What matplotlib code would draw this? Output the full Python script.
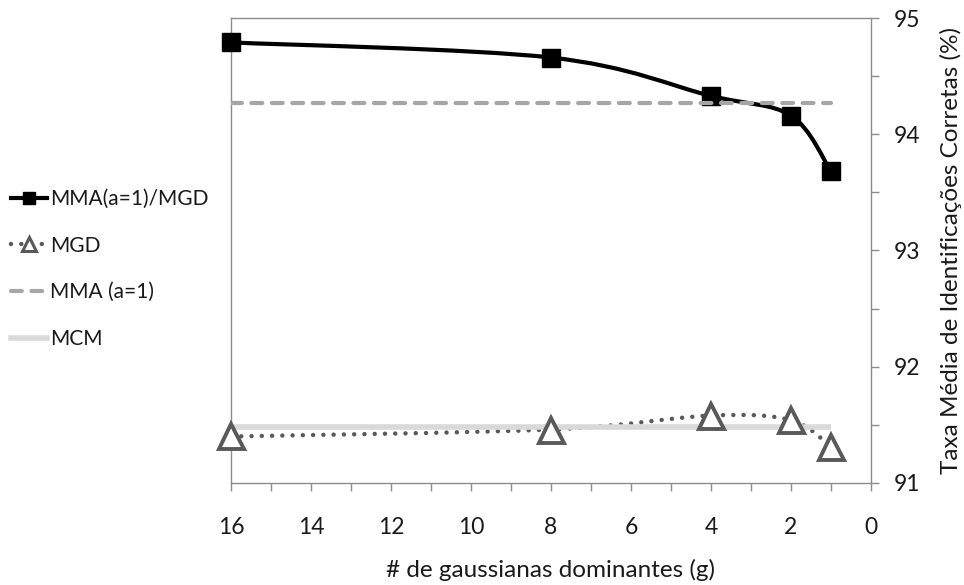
import numpy as np
import matplotlib
matplotlib.use("Agg")
import matplotlib.pyplot as plt
from matplotlib.path import Path
from matplotlib.patches import PathPatch
from matplotlib.lines import Line2D
from matplotlib.ticker import MultipleLocator

plt.rcParams['font.family'] = ['Lato', 'DejaVu Sans']

# Data
g = [16, 8, 4, 2, 1]
mma_mgd = [94.79, 94.66, 94.33, 94.16, 93.68]
mgd = [91.40, 91.46, 91.58, 91.54, 91.31]
mma_a1 = [94.27, 94.27]
mcm = [91.48, 91.48]
const_x = [16, 1]
labels = ["MMA(a=1)/MGD", "MGD", "MMA (a=1)", "MCM"]
xticks = [16, 14, 12, 10, 8, 6, 4, 2, 0]
yticks = [91, 92, 93, 94, 95]


def smooth_path(xs, ys):
    """Excel-like smoothed line: Catmull-Rom converted to cubic Bezier."""
    P = np.column_stack([xs, ys]).astype(float)
    n = len(P)
    verts = [P[0]]
    codes = [Path.MOVETO]
    for i in range(n - 1):
        p0 = P[i - 1] if i > 0 else P[i]
        p1 = P[i]
        p2 = P[i + 1]
        p3 = P[i + 2] if i + 2 < n else P[i + 1]
        c1 = p1 + (p2 - p0) / 6.0
        c2 = p2 - (p3 - p1) / 6.0
        verts += [c1, c2, p2]
        codes += [Path.CURVE4] * 3
    return Path(verts, codes)


fig = plt.figure(figsize=(9.64, 5.85), dpi=100)
ax = fig.add_axes([0.2396, 0.1744, 0.9035 - 0.2396, 0.9692 - 0.1744])

c_black = '#000000'
c_mgd = '#595959'
c_mma = '#A6A6A6'
c_mcm = '#D9D9D9'
dot_style = (0, (0.01, 2.3))
dash_style = (0, (2.6, 2.3))

# MMA(a=1)/MGD smoothed line
ax.add_patch(PathPatch(smooth_path(g, mma_mgd), fill=False, edgecolor=c_black,
                       lw=3, capstyle='round', joinstyle='round', zorder=3,
                       clip_on=False))
ax.plot(g, mma_mgd, linestyle='none', marker='s', markersize=13,
        markerfacecolor=c_black, markeredgecolor=c_black, zorder=4, clip_on=False)

# MGD dotted smoothed line
ax.add_patch(PathPatch(smooth_path(g, mgd), fill=False, edgecolor=c_mgd,
                       lw=3.2, linestyle=dot_style, capstyle='round',
                       zorder=3, clip_on=False))
ax.plot(g, mgd, linestyle='none', marker='^', markersize=18,
        markerfacecolor='white', markeredgecolor=c_mgd, markeredgewidth=2.8,
        zorder=6, clip_on=False)

# MMA(a=1) dashed
ax.plot(const_x, mma_a1, color=c_mma, lw=3, linestyle=dash_style,
        dash_capstyle='round', zorder=5)
# MCM
ax.plot(const_x, mcm, color=c_mcm, lw=4, solid_capstyle='butt', zorder=5)

ax.set_xlim(16, 0)
ax.set_ylim(91, 95)
ax.set_xticks(xticks)
ax.xaxis.set_minor_locator(MultipleLocator(1))
ax.set_yticks(yticks)
ax.yaxis.set_minor_locator(MultipleLocator(0.5))
ax.yaxis.tick_right()
ax.yaxis.set_label_position('right')

spine_c = '#8C8C8C'
for s in ax.spines.values():
    s.set_color(spine_c)
    s.set_linewidth(1.0)
ax.tick_params(axis='x', which='both', direction='out', length=5.5,
               color=spine_c, width=1.0, pad=19, labelsize=16.5, labelcolor='#1a1a1a')
ax.tick_params(axis='y', which='both', direction='out', length=5.5,
               color=spine_c, width=1.0, pad=11, labelsize=16.5, labelcolor='#1a1a1a',
               left=False, right=True)

ax.set_xlabel('# de gaussianas dominantes (g)', fontsize=17.5, color='#1a1a1a', labelpad=15)
ax.set_ylabel('Taxa Média de Identificações Corretas (%)', fontsize=17.5,
              color='#1a1a1a', labelpad=14)

handles = [
    Line2D([], [], color=c_black, lw=3, marker='s', markersize=9,
           markerfacecolor=c_black, markeredgecolor=c_black),
    Line2D([], [], color=c_mgd, lw=3.2, linestyle=dot_style,
           dash_capstyle='round', marker='^', markersize=10,
           markerfacecolor='white', markeredgecolor=c_mgd, markeredgewidth=2.2),
    Line2D([], [], color=c_mma, lw=3, linestyle=dash_style,
           dash_capstyle='round'),
    Line2D([], [], color=c_mcm, lw=4),
]
fig.legend(handles, labels, loc='upper left', bbox_to_anchor=(0.011, 0.677),
           bbox_transform=fig.transFigure, frameon=False, fontsize=15,
           handlelength=1.75, handletextpad=0.15, labelspacing=1.28,
           borderpad=0, borderaxespad=0, labelcolor='#1a1a1a')

fig.savefig('out.png', dpi=100)
